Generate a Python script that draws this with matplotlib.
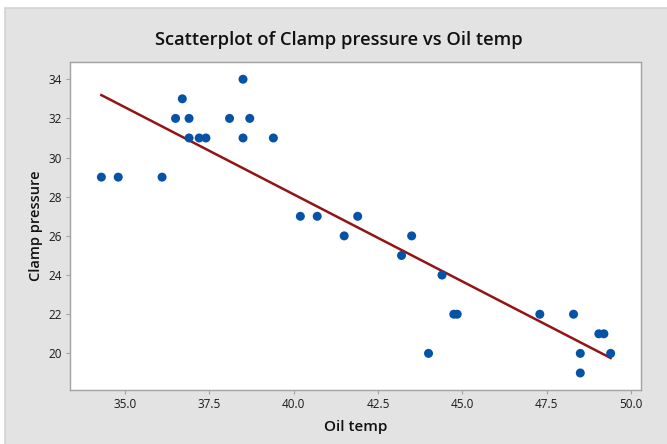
import matplotlib
matplotlib.use("Agg")
import matplotlib.pyplot as plt
from matplotlib.patches import Rectangle
import numpy as np

# Oil temp vs clamp pressure
oil_temp = [34.3, 34.8, 36.1, 36.5, 36.7, 36.9, 36.9, 37.2, 37.4, 38.1,
            38.5, 38.5, 38.7, 39.4, 40.2, 40.7, 41.5, 41.9, 43.2, 43.5,
            44.0, 44.4, 44.75, 44.85, 47.3, 48.3, 48.5, 48.5, 49.05, 49.2,
            49.4]
clamp_pressure = [29, 29, 29, 32, 33, 32, 31, 31, 31, 32,
                  34, 31, 32, 31, 27, 27, 26, 27, 25, 26,
                  20, 24, 22, 22, 22, 22, 20, 19, 21, 21,
                  20]
x_ticks = [35.0, 37.5, 40.0, 42.5, 45.0, 47.5, 50.0]
y_ticks = [20, 22, 24, 26, 28, 30, 32, 34]

plt.rcParams["font.family"] = ["Open Sans", "DejaVu Sans"]

W, H = 667, 444
fig = plt.figure(figsize=(W / 100, H / 100), dpi=100, facecolor="white")

# grey Minitab-style backdrop, kept behind the axes
fig.patches.append(Rectangle((5 / W, -0.01), 1.0, 1 - 8 / H + 0.01,
                             transform=fig.transFigure, facecolor="#e3e3e3",
                             edgecolor="#d2d2d2", linewidth=1.2, zorder=-5))

ax = fig.add_axes([70 / W, 1 - 390 / H, (641 - 70) / W, (390 - 62) / H])
ax.set_facecolor("white")

x = np.array(oil_temp)
y = np.array(clamp_pressure)
slope, icpt = np.polyfit(x, y, 1)
xs = np.array([x.min(), x.max()])
ax.plot(xs, slope * xs + icpt, color="#921414", linewidth=1.8, zorder=2)
ax.scatter(x, y, s=42, color="#0453a6", edgecolors="none", zorder=3)

ax.set_xlim(33.37, 50.30)
ax.set_ylim(18.13, 34.88)
ax.set_xticks(x_ticks)
ax.set_xticklabels([f"{v:.1f}" for v in x_ticks])
ax.set_yticks(y_ticks)

for s in ax.spines.values():
    s.set_color("#a3a3a3")
    s.set_linewidth(1.0)
ax.tick_params(length=3, width=0.8, color="#a3a3a3", labelsize=8.5,
               labelcolor="#1a1a1a", pad=3)

ax.set_xlabel("Oil temp", fontsize=11, fontweight="semibold", labelpad=6,
              color="#111111")
ax.set_ylabel("Clamp pressure", fontsize=10.5, fontweight="semibold",
              labelpad=4, color="#111111")
fig.text(0.508, 1 - 40 / H, "Scatterplot of Clamp pressure vs Oil temp",
         ha="center", va="center", fontsize=13.2, fontweight="semibold",
         color="#111111")

fig.savefig("out.png", dpi=100, facecolor="white")
